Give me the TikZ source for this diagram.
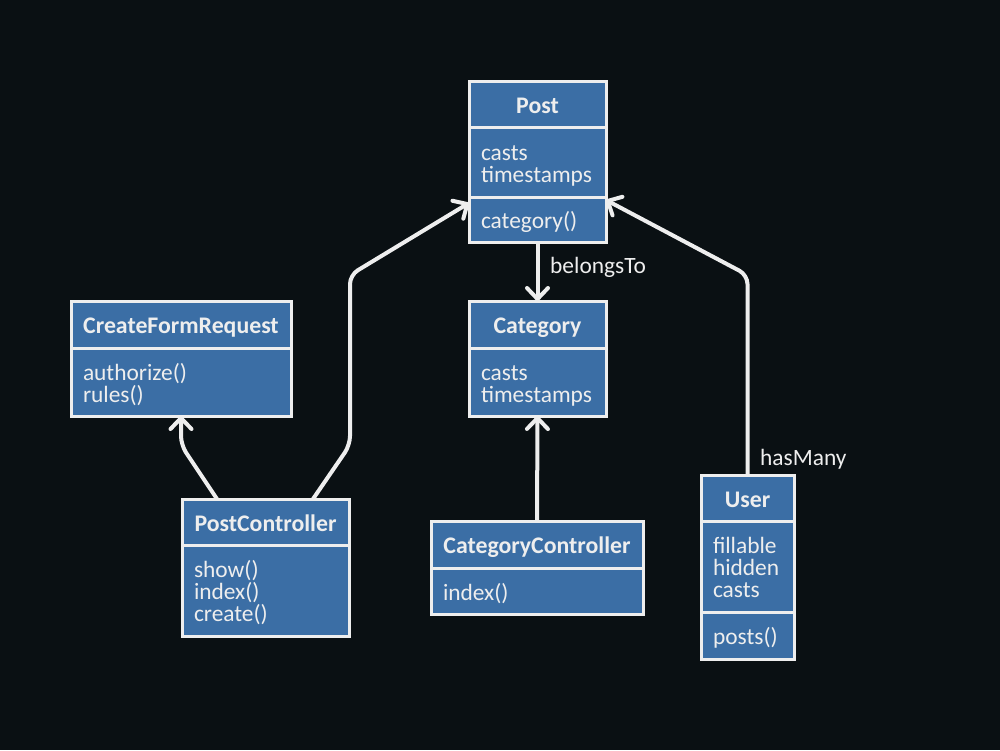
\documentclass[tikz,border=0pt]{standalone}
\usepackage{fontspec}
\setmainfont{Carlito}
\usetikzlibrary{arrows.meta,calc}
\definecolor{bg}{HTML}{0A1013}
\definecolor{boxblue}{HTML}{3B6EA5}
\definecolor{fg}{HTML}{EEEEEE}
\newcommand\tline[1]{\rule[-2pt]{0pt}{22pt}\smash{#1}}
\tikzset{
  boxbase/.style={draw=fg, fill=boxblue, line width=3pt, text=fg, anchor=north west,
    outer sep=0pt, inner xsep=12pt, inner ysep=0pt, font=\fontsize{23.4}{22}\selectfont},
  head/.style n args={2}{boxbase, minimum width=#1, minimum height=#2,
    font=\fontsize{23.8}{22}\selectfont\bfseries},
  body/.style n args={3}{boxbase, minimum width=#1, minimum height=#2, text width=#3, align=left},
  conn/.style={draw=fg, line width=4pt, rounded corners=9pt,
    -{Straight Barb[length=11pt,width=21pt,round]}},
  lbl/.style={text=fg, inner sep=0pt, font=\fontsize{23.4}{22}\selectfont},
}
\begin{document}
\begin{tikzpicture}[x=1pt,y=-1pt]
\useasboundingbox (0,0) rectangle (1000,750);
\fill[bg] (0,0) rectangle (1000,750);
% Post
\node[head={137}{46}] (postH) at (469,81) {\tline{Post}};
\node[body={137}{70}{113pt}] (postA) at (469,127) {\tline{casts}\\\tline{timestamps}};
\node[body={137}{45}{113pt}] (postM) at (469,197) {\tline{category()}};
% Category
\node[head={137}{47}] (catH) at (469,301) {\tline{Category}};
\node[body={137}{68}{113pt}] (catA) at (469,348) {\tline{casts}\\\tline{timestamps}};
% CreateFormRequest
\node[head={220}{47}] (cfrH) at (71,301) {\tline{CreateFormRequest}};
\node[body={220}{68}{196pt}] (cfrB) at (71,348) {\tline{authorize()}\\\tline{rules()}};
% PostController
\node[head={167}{46}] (pcH) at (182,499) {\tline{PostController}};
\node[body={167}{91}{143pt}] (pcB) at (182,545) {\tline{show()}\\\tline{index()}\\\tline{create()}};
% CategoryController
\node[head={212}{47}] (ccH) at (431,521) {\tline{CategoryController}};
\node[body={212}{46}{188pt}] (ccB) at (431,568) {\tline{index()}};
% User
\node[head={93}{46}] (userH) at (701,475) {\tline{User}};
\node[body={93}{91}{69pt}] (userA) at (701,521) {\tline{fillable}\\\tline{hidden}\\\tline{casts}};
\node[body={93}{47}{69pt}] (userM) at (701,612) {\tline{posts()}};
% connectors
\draw[conn] ($(pcH.north west)+(35,0)$) -- (181,445) -- (cfrB.south);
\draw[conn] ($(pcH.north east)+(-36,0)$) -- (350,445) -- (350,275) -- ($(postM.north west)+(0,6)$);
\draw[conn] (postM.south) -- (catH.north);
\draw[conn] (ccH.north) -- (catA.south);
\draw[conn] (userH.north) -- (747.5,275) -- ($(postM.north east)+(0,3)$);
% labels
\node[lbl, anchor=base west] (belongs) at (550,273) {belongsTo};
\node[lbl, anchor=base west] (hasmany) at (760,465) {hasMany};
\end{tikzpicture}
\end{document}
